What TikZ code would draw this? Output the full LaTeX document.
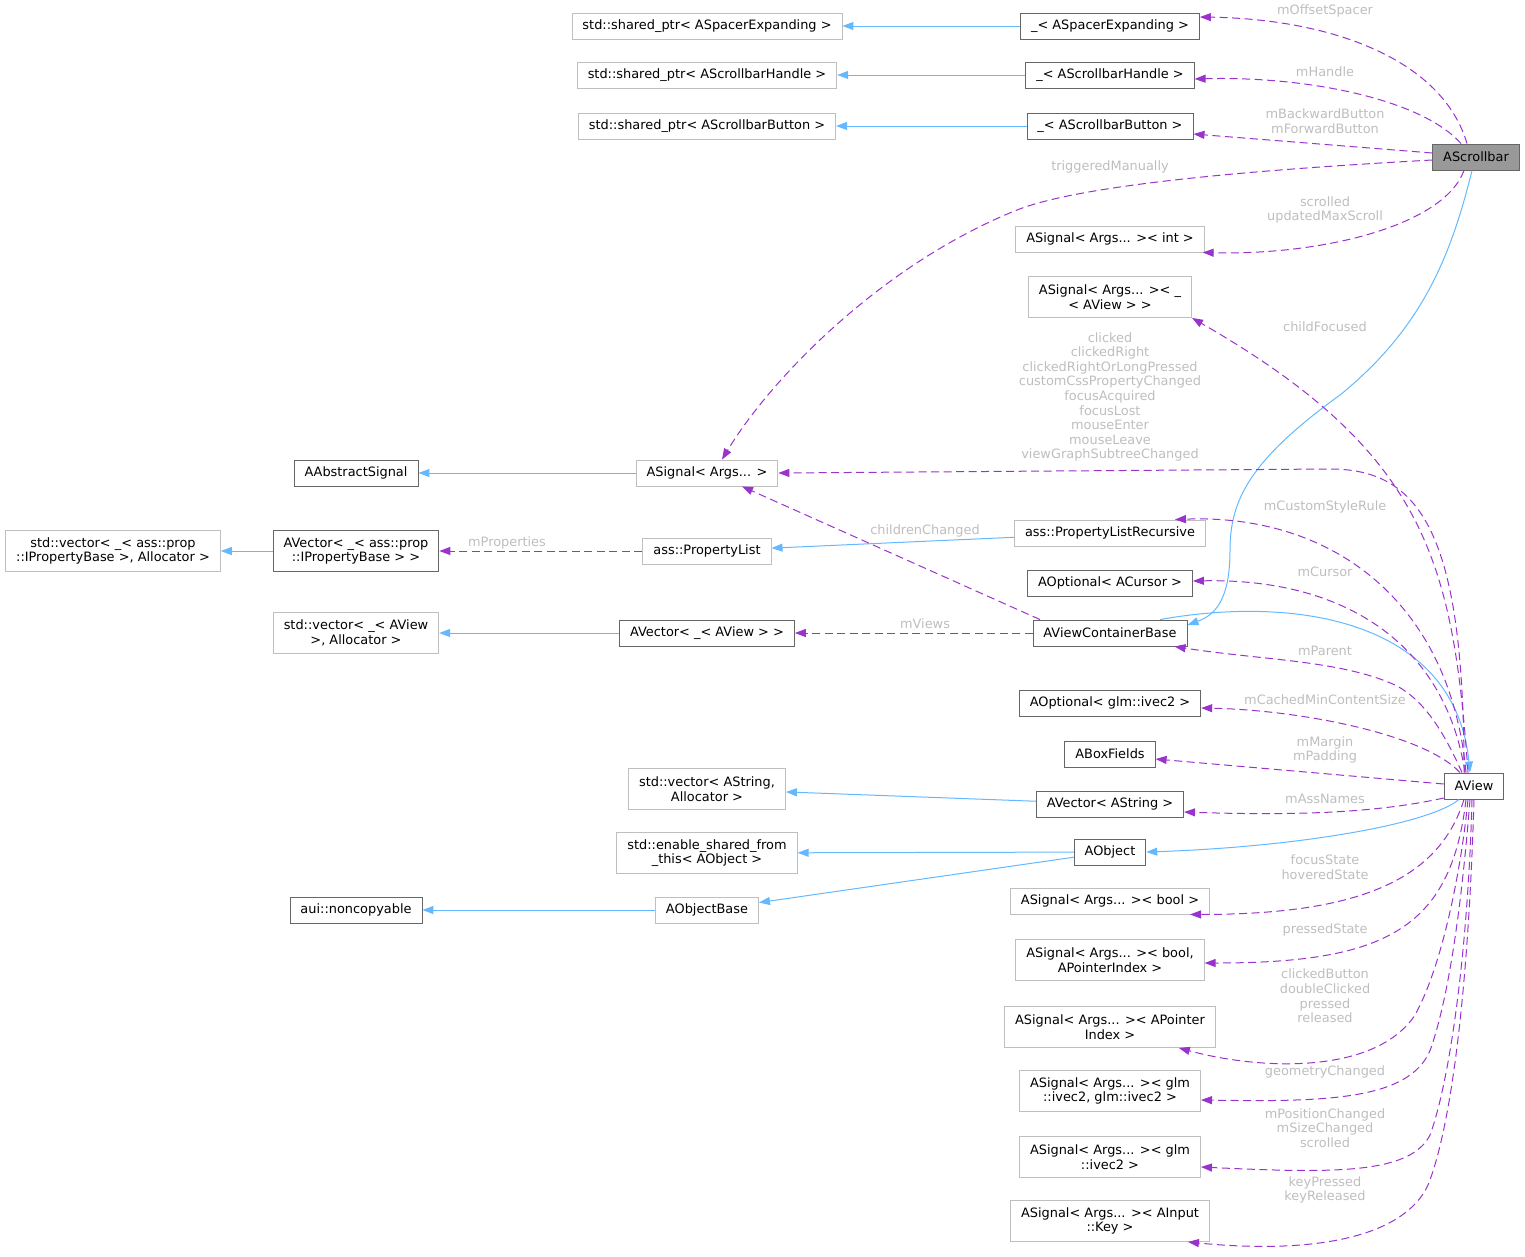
\documentclass[tikz,border=0pt]{standalone}
\usepackage{fontspec}
\setmainfont{DejaVu Sans}
\usetikzlibrary{arrows.meta}

\definecolor{inhblue}{HTML}{63B8FF}
\definecolor{usepurple}{HTML}{9A32CD}
\definecolor{lblgray}{HTML}{BEBEBE}
\definecolor{darkframe}{HTML}{666666}
\definecolor{lightframe}{HTML}{BFBFBF}
\definecolor{selfill}{HTML}{999999}

\begin{document}
\begin{tikzpicture}[
    x=1pt, y=-1pt,
    cls/.style={
        draw=darkframe, line width=0.9pt, fill=white,
        font=\fontsize{12.9}{14.6}\selectfont, align=center,
        inner xsep=10.5pt, inner ysep=2pt, minimum height=26pt
    },
    ext/.style={cls, draw=lightframe},
    self/.style={cls, fill=selfill},
    tall/.style={minimum height=41pt},
    inh/.style={draw=inhblue, line width=1pt, -{Triangle[length=11pt,width=8pt]}},
    usage/.style={draw=usepurple, line width=1pt, dash pattern=on 8pt off 4.5pt,
        -{Triangle[length=11pt,width=8pt]}},
    elbl/.style={text=lblgray, font=\fontsize{12.9}{14.6}\selectfont,
        align=center, inner sep=0pt},
]
\useasboundingbox (0,0) rectangle (1525,1256);

% columns: x = 113, 356, 707, 1110, 1476
\node [self] (scroll) at (1476,157) {AScrollbar};

\node [cls] (spcr)    at (1110,26)  {\_< ASpacerExpanding >};
\node [ext] (spcrptr) at (707,26)   {std::shared\_ptr< ASpacerExpanding >};
\node [cls] (hndl)    at (1110,75)  {\_< AScrollbarHandle >};
\node [ext] (hndlptr) at (707,75)   {std::shared\_ptr< AScrollbarHandle >};
\node [cls] (btn)     at (1110,126) {\_< AScrollbarButton >};
\node [ext] (btnptr)  at (707,126)  {std::shared\_ptr< AScrollbarButton >};

\node [ext] (sigint)       at (1110,239) {ASignal< Args... >< int >};
\node [ext, tall] (sigview) at (1110,297) {ASignal< Args... >< \_\\< AView > >};
\node [ext] (sig)          at (707,473)  {ASignal< Args... >};
\node [cls] (abssig)       at (356,473)  {AAbstractSignal};

\node [ext] (proprec)       at (1110,533) {ass::PropertyListRecursive};
\node [ext] (proplist)      at (707,551)  {ass::PropertyList};
\node [cls, tall] (propvec) at (356,551)  {AVector< \_< ass::prop\\::IPropertyBase > >};
\node [ext, tall] (propstd) at (113,551)  {std::vector< \_< ass::prop\\::IPropertyBase >, Allocator >};

\node [cls] (optcur)        at (1110,583) {AOptional< ACursor >};
\node [cls] (vcb)           at (1110,633) {AViewContainerBase};
\node [cls] (viewvec)       at (707,633)  {AVector< \_< AView > >};
\node [ext, tall] (viewstd) at (356,633)  {std::vector< \_< AView\\>, Allocator >};

\node [cls] (optvec) at (1110,703) {AOptional< glm::ivec2 >};
\node [cls] (boxf)   at (1110,754) {ABoxFields};
\node [cls] (aview)  at (1474,786) {AView};

\node [ext, tall] (strstd) at (707,789)  {std::vector< AString,\\Allocator >};
\node [cls] (strvec)       at (1110,804) {AVector< AString >};
\node [ext, tall] (esft)   at (707,853)  {std::enable\_shared\_from\\\_this< AObject >};
\node [cls] (aobj)         at (1110,852) {AObject};
\node [ext] (aobjb)        at (707,910)  {AObjectBase};
\node [cls] (noncp)        at (356,910)  {aui::noncopyable};

\node [ext] (sigbool)        at (1110,901)  {ASignal< Args... >< bool >};
\node [ext, tall] (sigboolp) at (1110,960)  {ASignal< Args... >< bool,\\APointerIndex >};
\node [ext, tall] (sigptr)   at (1110,1027) {ASignal< Args... >< APointer\\Index >};
\node [ext, tall] (sigvv)    at (1110,1091) {ASignal< Args... >< glm\\::ivec2, glm::ivec2 >};
\node [ext, tall] (sigv)     at (1110,1157) {ASignal< Args... >< glm\\::ivec2 >};
\node [ext, tall] (sigkey)   at (1110,1221) {ASignal< Args... >< AInput\\::Key >};

% inheritance
\draw[inh] (spcr) -- (spcrptr);
\draw[inh] (hndl) -- (hndlptr);
\draw[inh] (btn) -- (btnptr);
\draw[inh] (sig) -- (abssig);
\draw[inh] (proprec) -- (proplist);
\draw[inh] (propvec) -- (propstd);
\draw[inh] (viewvec) -- (viewstd);
\draw[inh] (strvec) -- (strstd);
\draw[inh] (aobj) -- (esft);
\draw[inh] (aobj) -- (aobjb);
\draw[inh] (aobjb) -- (noncp);
\draw[inh] ([xshift=-4pt]scroll.south) .. controls (1450,260) and (1420,330) .. (1340,395)
    .. controls (1250,460) and (1230,500) .. (1230,550)
    .. controls (1230,600) and (1215,615) .. ([yshift=8pt]vcb.east);
\draw[inh] ([xshift=50pt]vcb.north) .. controls +(140,-25) and +(-15,-150) .. ([xshift=-4pt]aview.north);
\draw[inh] ([xshift=-15pt]aview.south) .. controls +(-30,25) and +(150,-5) .. (aobj.east);

% members of AScrollbar
\draw[usage] ([xshift=-9pt]scroll.north) .. controls +(-25,-85) and +(130,2) .. ([yshift=9pt]spcr.east);
\draw[usage] ([xshift=-15pt]scroll.north) .. controls +(-40,-45) and +(110,-3) .. ([yshift=-4pt]hndl.east);
\draw[usage] ([yshift=4pt]scroll.west) -- ([yshift=-8pt]btn.east);
\draw[usage] ([yshift=-3pt]scroll.west) .. controls (1250,170) and (1080,185) .. (1017,210)
    .. controls (880,265) and (770,380) .. ([xshift=15pt]sig.north);
\draw[usage] ([xshift=-12pt]scroll.south) .. controls +(-20,55) and +(120,3) .. ([xshift=-2pt]sigint.south east);

% members of AView
\draw[usage] ([xshift=-6pt]aview.north) .. controls +(-15,-210) and +(235,135) .. (sigview.south east);
\draw[usage] ([xshift=-10pt]aview.north) .. controls +(0,-240) and +(90,0) .. (1330,469) -- (sig.east);
\draw[usage] ([xshift=-8pt]aview.north) .. controls +(-16,-173) and +(155,-6) .. ([xshift=-31pt]proprec.north east);
\draw[usage] ([xshift=-9pt]aview.north) .. controls +(-20,-130) and +(150,-3) .. ([yshift=2pt]optcur.east);
\draw[usage] ([xshift=-12pt]aview.north) .. controls +(-17,-38) and +(30,15) .. (1395,685)
    .. controls (1340,660) and (1260,660) .. ([xshift=-13pt]vcb.south east);
\draw[usage] ([xshift=-14pt]aview.north) .. controls +(-35,-38) and +(100,2) .. ([yshift=-5pt]optvec.east);
\draw[usage] ([yshift=2pt]aview.west) -- ([yshift=-5pt]boxf.east);
\draw[usage] ([yshift=-12pt]aview.west) .. controls +(-64,14) and +(120,4) .. ([yshift=-8pt]strvec.east);
\draw[usage] ([xshift=-10pt]aview.south) .. controls +(-25,80) and +(170,0) .. ([xshift=-20pt]sigbool.south east);
\draw[usage] ([xshift=-8pt]aview.south) .. controls +(-15,130) and +(180,0) .. ([yshift=-3pt]sigboolp.east);
\draw[usage] ([xshift=-6pt]aview.south) .. controls +(-8,81) and +(25,-45) .. (1415,1015)
    .. controls (1375,1075) and (1260,1070) .. ([xshift=-37pt]sigptr.south east);
\draw[usage] ([xshift=-4pt]aview.south) .. controls +(-8,101) and +(18,-55) .. (1432,1045)
    .. controls (1415,1100) and (1330,1102) .. ([yshift=-9pt]sigvv.east);
\draw[usage] ([xshift=-2pt]aview.south) .. controls +(-4,151) and +(20,-55) .. (1430,1135)
    .. controls (1410,1175) and (1330,1173) .. ([yshift=-10pt]sigv.east);
\draw[usage] (aview.south) .. controls +(-6,201) and +(22,-55) .. (1428,1185)
    .. controls (1405,1235) and (1320,1255) .. ([xshift=-22pt]sigkey.south east);

% members of AViewContainerBase and ass::PropertyList
\draw[usage] ([xshift=-70pt]vcb.north) -- ([xshift=35pt]sig.south);
\draw[usage] (vcb) -- (viewvec);
\draw[usage] (proplist) -- (propvec);

% edge labels
\node [elbl] (lOffset)   at (1325,11)  {mOffsetSpacer};
\node [elbl] (lHandle)   at (1325,72)  {mHandle};
\node [elbl] (lButtons)  at (1325,121) {mBackwardButton\\mForwardButton};
\node [elbl] (lTrigger)  at (1110,167) {triggeredManually};
\node [elbl] (lScrolled) at (1325,210) {scrolled\\updatedMaxScroll};
\node [elbl] (lChild)    at (1325,327) {childFocused};
\node [elbl] (lSignals)  at (1110,397) {clicked\\clickedRight\\clickedRightOrLongPressed\\customCssPropertyChanged\\focusAcquired\\focusLost\\mouseEnter\\mouseLeave\\viewGraphSubtreeChanged};
\node [elbl] (lChildren) at (925,531)  {childrenChanged};
\node [elbl] (lViews)    at (925,624)  {mViews};
\node [elbl] (lProps)    at (507,543)  {mProperties};
\node [elbl] (lStyle)    at (1325,507) {mCustomStyleRule};
\node [elbl] (lCursor)   at (1325,572) {mCursor};
\node [elbl] (lParent)   at (1325,651) {mParent};
\node [elbl] (lCached)   at (1325,700) {mCachedMinContentSize};
\node [elbl] (lMargin)   at (1325,750) {mMargin\\mPadding};
\node [elbl] (lAss)      at (1325,799) {mAssNames};
\node [elbl] (lFocus)    at (1325,867) {focusState\\hoveredState};
\node [elbl] (lPressed)  at (1325,930) {pressedState};
\node [elbl] (lClick)    at (1325,996) {clickedButton\\doubleClicked\\pressed\\released};
\node [elbl] (lGeom)     at (1325,1072) {geometryChanged};
\node [elbl] (lPos)      at (1325,1128) {mPositionChanged\\mSizeChanged\\scrolled};
\node [elbl] (lKey)      at (1325,1190) {keyPressed\\keyReleased};

\end{tikzpicture}
\end{document}
